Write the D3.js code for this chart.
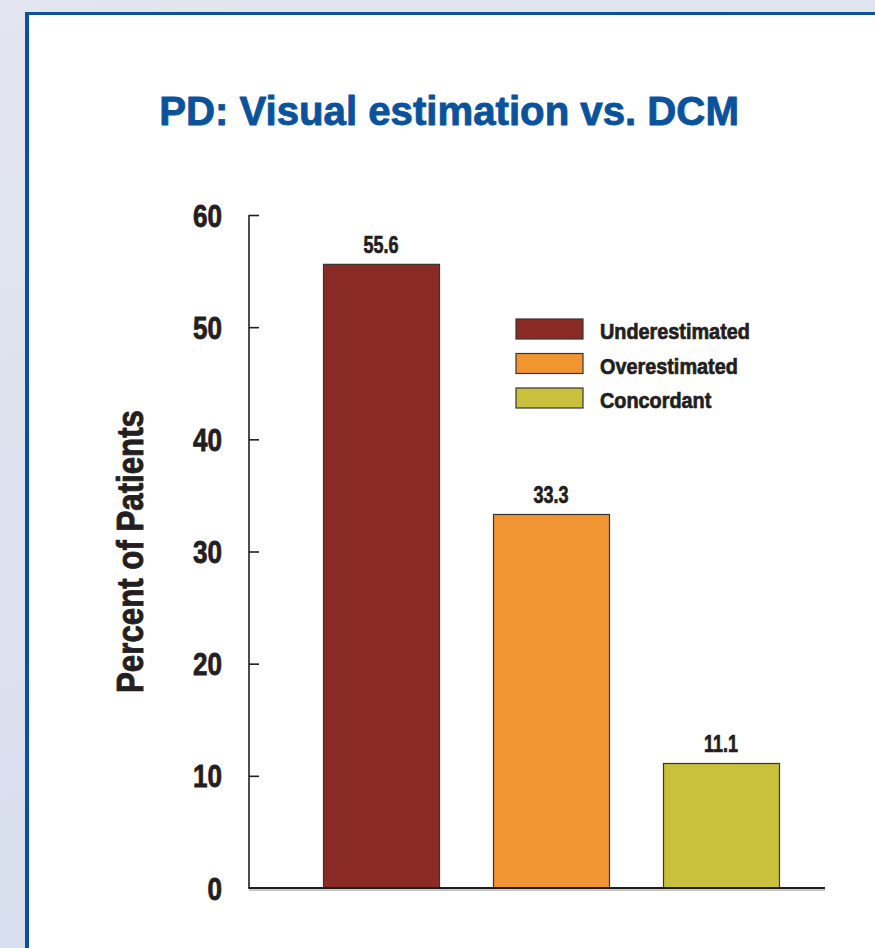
<!DOCTYPE html>
<html>
<head>
<meta charset="utf-8">
<script src="https://cdn.jsdelivr.net/npm/d3@7"></script>
<style>
  html, body { margin: 0; padding: 0; background: #e0e3ef; }
  svg { display: block; }
  text { font-family: "Liberation Sans", Arial, sans-serif; font-weight: bold; }
</style>
</head>
<body>
<script>
const categories = ["Underestimated", "Overestimated", "Concordant"];
const values = [55.6, 33.3, 11.1];
const valueLabels = ["55.6", "33.3", "11.1"];
const colors = ["#8b2b26", "#f09531", "#c9c13b"];
const yTicks = [0, 10, 20, 30, 40, 50, 60];
const titleText = "PD: Visual estimation vs. DCM";
const yTitle = "Percent of Patients";

const W = 875, H = 948;
const svg = d3.select("body").append("svg").attr("width", W).attr("height", H);

const defs = svg.append("defs");
const g1 = defs.append("linearGradient").attr("id", "bg").attr("x1", 0).attr("y1", 0).attr("x2", 0.3).attr("y2", 1);
g1.append("stop").attr("offset", 0).attr("stop-color", "#e3e5f1");
g1.append("stop").attr("offset", 1).attr("stop-color", "#d6deed");
svg.append("rect").attr("width", W).attr("height", H).attr("fill", "url(#bg)");

svg.append("rect").attr("x", 27).attr("y", 13.5).attr("width", W).attr("height", H).attr("fill", "#ffffff");
svg.append("rect").attr("x", 25).attr("y", 12).attr("width", 4).attr("height", H).attr("fill", "#0a539c");
svg.append("rect").attr("x", 25).attr("y", 12).attr("width", W).attr("height", 3).attr("fill", "#0a539c");

// helper: horizontally condensed, slightly heavier text
function condensed(parent, x, y, rot, s, size, anchor, fill, str, sw) {
  const g = parent.append("g").attr("transform", `translate(${x},${y}) rotate(${rot}) scale(${s},1)`);
  return g.append("text").attr("font-size", size).attr("text-anchor", anchor)
    .attr("fill", fill).attr("stroke", fill).attr("stroke-width", sw).attr("stroke-linejoin", "round")
    .text(str);
}
function natural(size, str) {
  const t = svg.append("text").attr("font-size", size).text(str);
  const L = t.node().getComputedTextLength();
  t.remove();
  return L;
}

// title
const sTitle = 580 / natural(41, titleText);
condensed(svg, 449, 125, 0, sTitle, 41, "middle", "#0a539c", titleText, 0.9);

const x0 = 249, x1 = 825;
const y = d3.scaleLinear().domain([0, 60]).range([888, 215]);
const x = d3.scaleBand().domain(categories).range([296, 806]).paddingInner(54/170).paddingOuter(27/170);

// bars
svg.append("g").selectAll("rect").data(values).join("rect")
  .attr("x", (d, i) => x(categories[i]) + 0.5)
  .attr("y", d => y(d))
  .attr("width", x.bandwidth())
  .attr("height", d => y(0) - y(d))
  .attr("fill", (d, i) => colors[i])
  .attr("stroke", "#3a3332").attr("stroke-width", 1.2);

// value labels
const sVal = 35 / natural(23, "55.6");
values.forEach((d, i) => {
  condensed(svg, x(categories[i]) + x.bandwidth() / 2, y(d) - 11.5, 0, sVal, 23, "middle", "#231f20", valueLabels[i], 0.7);
});

// y axis
const yAxis = d3.axisRight(y).tickValues(yTicks).tickSize(10).tickFormat("");
const ya = svg.append("g").attr("transform", `translate(${x0},0)`).call(yAxis);
ya.select(".domain").remove();
ya.selectAll("line").attr("stroke", "#231f20").attr("stroke-width", 1.6);
svg.append("line").attr("x1", x0).attr("x2", x0).attr("y1", y(60)).attr("y2", y(0))
  .attr("stroke", "#231f20").attr("stroke-width", 1.6);

// y tick labels
const sTick = 29 / natural(31, "60");
yTicks.forEach(d => {
  condensed(svg, 222, y(d) + 11.5, 0, sTick, 31, "end", "#231f20", String(d), 0.8);
});

// x axis with shadow
svg.append("line").attr("x1", x0).attr("x2", x1).attr("y1", y(0) + 2).attr("y2", y(0) + 2)
  .attr("stroke", "#c8c8c8").attr("stroke-width", 2);
svg.append("line").attr("x1", x0 - 0.8).attr("x2", x1).attr("y1", y(0)).attr("y2", y(0))
  .attr("stroke", "#231f20").attr("stroke-width", 2);

// y title
const sYT = 283 / natural(37, yTitle);
condensed(svg, 143, (y(0) + y(60)) / 2, -90, sYT, 37, "middle", "#231f20", yTitle, 0.9);

// legend
const sLeg = 150 / natural(22, "Underestimated");
categories.forEach((c, i) => {
  const gy = 319 + i * 34.5;
  svg.append("rect").attr("x", 516).attr("y", gy).attr("width", 67).attr("height", 20)
    .attr("fill", colors[i]).attr("stroke", "#3a3332").attr("stroke-width", 1.2);
  condensed(svg, 600, gy + 20, 0, sLeg, 22, "start", "#231f20", c, 0.7);
});
</script>
</body>
</html>
